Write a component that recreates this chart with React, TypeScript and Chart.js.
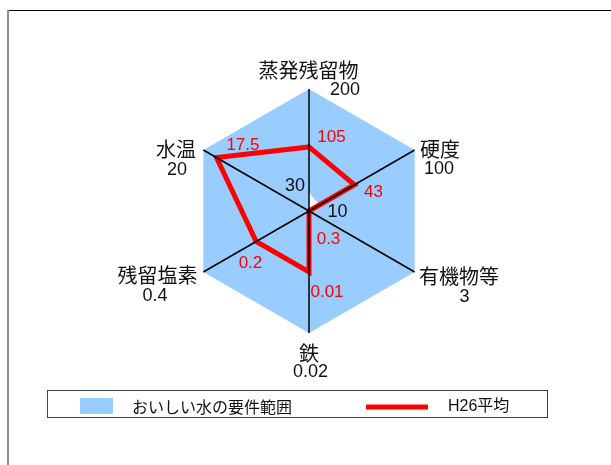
import React, { useEffect, useRef } from 'react';
import { Chart, registerables } from 'chart.js';

Chart.register(...registerables);

// ---- data ----
const categories = ['蒸発残留物', '硬度', '有機物等', '鉄', '残留塩素', '水温'];
const axisMaxLabels = ['200', '100', '3', '0.02', '0.4', '20'];
// requirement range (percent of each axis maximum)
const rangeUpper = [100, 100, 100, 100, 100, 100];
const rangeLower = [15, 10, 0, 0, 0, 0];
const rangeLowerLabels = ['30', '10'];
// H26 average (percent of each axis maximum, as plotted)
const h26Values = [52.5, 43, 0, 50, 50, 87.5];
const h26Labels = ['105', '43', '0.3', '0.01', '0.2', '17.5'];
const seriesNames = ['おいしい水の要件範囲', 'H26平均'];

// ---- styles ----
const BLUE = '#99CCFF';
const RED = '#FF0000';
const CJK = '"Noto Sans CJK JP", sans-serif';
const NUM = '"Liberation Sans", "Noto Sans CJK JP", sans-serif';

const nameOffsets = [[-0.5, -19], [25.3, -1], [44.3, 4], [0, 20], [-45.8, 3.5], [-27.3, -0.5]];
const maxOffsets = [[36, 1], [24.3, 19.5], [49.8, 25], [1.5, 39], [-48.3, 24], [-26.3, 20.5]];
const h26LabelOffsets = [[22.5, -9.5], [19, 8], [19.5, 28], [18, 20.5], [-5.7, 21.5], [26.4, -12]];
const lowerLabelOffsets = [[-14, -6.7], [18, 7.6]];

const overlay = {
  id: 'overlay',
  beforeDraw(chart: any) {
    const ctx = chart.ctx;
    ctx.save();
    ctx.fillStyle = '#ffffff';
    ctx.fillRect(0, 0, chart.width, chart.height);
    ctx.fillStyle = '#000000';
    ctx.fillRect(7, 10, chart.width - 7, 1);
    ctx.fillStyle = '#909090';
    ctx.fillRect(7, 10, 2, chart.height - 10);
    ctx.restore();
  },
  afterDatasetsDraw(chart: any) {
    const ctx = chart.ctx;
    const scale = chart.scales.r;
    ctx.save();
    ctx.strokeStyle = '#000000';
    ctx.lineWidth = 1.5;
    for (let i = 0; i < categories.length; i++) {
      const p = scale.getPointPosition(i, scale.drawingArea);
      ctx.beginPath();
      ctx.moveTo(scale.xCenter, scale.yCenter);
      ctx.lineTo(p.x, p.y);
      ctx.stroke();
    }
    ctx.restore();
  },
  afterDraw(chart: any) {
    const ctx = chart.ctx;
    const scale = chart.scales.r;
    ctx.save();
    ctx.textAlign = 'center';
    ctx.textBaseline = 'middle';
    // axis names and maxima
    for (let i = 0; i < categories.length; i++) {
      const p = scale.getPointPosition(i, scale.drawingArea);
      ctx.fillStyle = '#111111';
      ctx.font = '20px ' + CJK;
      ctx.fillText(categories[i], p.x + nameOffsets[i][0], p.y + nameOffsets[i][1]);
      ctx.font = '18px ' + NUM;
      ctx.fillText(axisMaxLabels[i], p.x + maxOffsets[i][0], p.y + maxOffsets[i][1]);
    }
    // H26 value labels
    const redMeta = chart.getDatasetMeta(0);
    ctx.fillStyle = RED;
    ctx.font = '17px ' + NUM;
    for (let i = 0; i < h26Labels.length; i++) {
      const el = redMeta.data[i];
      ctx.fillText(h26Labels[i], el.x + h26LabelOffsets[i][0], el.y + h26LabelOffsets[i][1]);
    }
    // lower bound labels
    const lowMeta = chart.getDatasetMeta(1);
    ctx.fillStyle = '#111111';
    ctx.font = '18px ' + NUM;
    for (let i = 0; i < rangeLowerLabels.length; i++) {
      const el = lowMeta.data[i];
      ctx.fillText(rangeLowerLabels[i], el.x + lowerLabelOffsets[i][0], el.y + lowerLabelOffsets[i][1]);
    }
    // legend
    ctx.strokeStyle = '#444444';
    ctx.lineWidth = 1;
    ctx.strokeRect(47.5, 390.5, 500, 27);
    ctx.fillStyle = BLUE;
    ctx.fillRect(80, 398, 33, 16);
    ctx.fillStyle = RED;
    ctx.fillRect(366, 404.5, 62, 5);
    ctx.fillStyle = '#111111';
    ctx.textAlign = 'left';
    ctx.font = '16px ' + CJK;
    ctx.fillText(seriesNames[0], 132, 407);
    ctx.font = '16px ' + NUM;
    ctx.fillText(seriesNames[1], 448, 407);
    ctx.restore();
  },
};

export default function App() {
  const ref = useRef<HTMLCanvasElement>(null);
  useEffect(() => {
    const chart = new Chart(ref.current as HTMLCanvasElement, {
      type: 'radar',
      data: {
        labels: categories,
        datasets: [
          {
            label: seriesNames[1],
            data: h26Values,
            borderColor: RED,
            backgroundColor: 'rgba(0,0,0,0)',
            borderWidth: 5,
            borderJoinStyle: 'miter',
            fill: false,
            pointRadius: 0,
            pointHoverRadius: 0,
          },
          {
            label: 'lower',
            data: rangeLower,
            borderColor: 'rgba(0,0,0,0)',
            backgroundColor: '#ffffff',
            borderWidth: 0,
            fill: 'origin',
            pointRadius: 0,
            pointHoverRadius: 0,
          },
          {
            label: seriesNames[0],
            data: rangeUpper,
            borderColor: 'rgba(0,0,0,0)',
            backgroundColor: BLUE,
            borderWidth: 0,
            fill: 'origin',
            pointRadius: 0,
            pointHoverRadius: 0,
          },
        ],
      },
      options: {
        responsive: false,
        maintainAspectRatio: false,
        animation: false,
        events: [],
        layout: { padding: { left: 187, right: 180, top: 89, bottom: 132 } },
        plugins: { legend: { display: false }, tooltip: { enabled: false } },
        scales: {
          r: {
            min: 0,
            max: 100,
            ticks: { display: false },
            grid: { display: false },
            angleLines: { display: false },
            pointLabels: { display: false },
          },
        },
      },
      plugins: [overlay],
    } as any);
    return () => chart.destroy();
  }, []);
  return (
    <div style={{ position: 'fixed', left: 0, top: 0, width: 611, height: 465, background: '#fff' }}>
      <canvas ref={ref} width={611} height={465} style={{ display: 'block', width: 611, height: 465 }} />
    </div>
  );
}
